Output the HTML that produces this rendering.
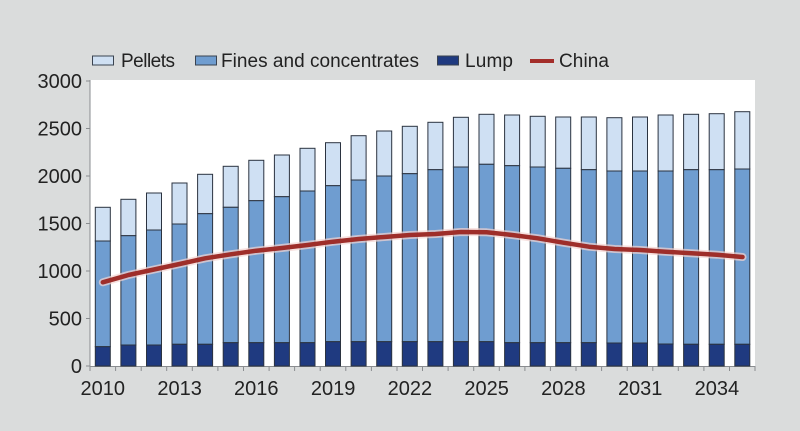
<!DOCTYPE html>
<html><head><meta charset="utf-8"><style>
html,body{margin:0;padding:0;background:#dadcdc;}
svg{display:block;}
text{font-family:"Liberation Sans",sans-serif;fill:#222;}
</style></head><body>
<svg width="800" height="431" viewBox="0 0 800 431" xmlns="http://www.w3.org/2000/svg">
<rect width="800" height="431" fill="#dadcdc"/>
<rect x="90" y="80" width="665" height="286" fill="#ffffff"/>
<!-- legend -->
<rect x="92.5" y="56" width="21" height="9" fill="#cfe0f3" stroke="#3a4350" stroke-width="1"/>
<text x="121" y="67" font-size="19" textLength="54">Pellets</text>
<rect x="195.5" y="56" width="21" height="9" fill="#6f9dd0" stroke="#3a4350" stroke-width="1"/>
<text x="221" y="67" font-size="19" textLength="198">Fines and concentrates</text>
<rect x="437.5" y="56" width="21" height="9" fill="#1f3a80" stroke="#3a4350" stroke-width="1"/>
<text x="465" y="67" font-size="19" textLength="48">Lump</text>
<line x1="530" y1="61" x2="554" y2="61" stroke="#a32e2a" stroke-width="4"/>
<text x="559" y="67" font-size="19" textLength="50">China</text>
<!-- axes -->
<g stroke="#8a8d90" stroke-width="1">
<line x1="90" y1="80" x2="90" y2="366.5"/>
<line x1="90" y1="366.5" x2="755" y2="366.5"/>
<line x1="86" y1="81" x2="90" y2="81"/>
<line x1="86" y1="128.5" x2="90" y2="128.5"/>
<line x1="86" y1="176" x2="90" y2="176"/>
<line x1="86" y1="223.5" x2="90" y2="223.5"/>
<line x1="86" y1="271" x2="90" y2="271"/>
<line x1="86" y1="318.5" x2="90" y2="318.5"/>
<line x1="86" y1="366" x2="90" y2="366"/>
</g>
<g stroke="#8a8d90" stroke-width="1">
<line x1="90" y1="366" x2="90" y2="371"/><line x1="115.6" y1="366" x2="115.6" y2="371"/><line x1="141.2" y1="366" x2="141.2" y2="371"/><line x1="166.7" y1="366" x2="166.7" y2="371"/><line x1="192.3" y1="366" x2="192.3" y2="371"/><line x1="217.9" y1="366" x2="217.9" y2="371"/><line x1="243.5" y1="366" x2="243.5" y2="371"/><line x1="269.1" y1="366" x2="269.1" y2="371"/><line x1="294.6" y1="366" x2="294.6" y2="371"/><line x1="320.2" y1="366" x2="320.2" y2="371"/><line x1="345.8" y1="366" x2="345.8" y2="371"/><line x1="371.4" y1="366" x2="371.4" y2="371"/><line x1="397" y1="366" x2="397" y2="371"/><line x1="422.5" y1="366" x2="422.5" y2="371"/><line x1="448.1" y1="366" x2="448.1" y2="371"/><line x1="473.7" y1="366" x2="473.7" y2="371"/><line x1="499.3" y1="366" x2="499.3" y2="371"/><line x1="524.9" y1="366" x2="524.9" y2="371"/><line x1="550.4" y1="366" x2="550.4" y2="371"/><line x1="576" y1="366" x2="576" y2="371"/><line x1="601.6" y1="366" x2="601.6" y2="371"/><line x1="627.2" y1="366" x2="627.2" y2="371"/><line x1="652.8" y1="366" x2="652.8" y2="371"/><line x1="678.3" y1="366" x2="678.3" y2="371"/><line x1="703.9" y1="366" x2="703.9" y2="371"/><line x1="729.5" y1="366" x2="729.5" y2="371"/><line x1="755" y1="366" x2="755" y2="371"/>
</g>
<!-- y labels -->
<g font-size="20" text-anchor="end">
<text x="82" y="88">3000</text>
<text x="82" y="135.5">2500</text>
<text x="82" y="183">2000</text>
<text x="82" y="230.5">1500</text>
<text x="82" y="278">1000</text>
<text x="82" y="325.5">500</text>
<text x="82" y="373">0</text>
</g>
<!-- x labels -->
<g font-size="20" text-anchor="middle">
<text x="102.8" y="395">2010</text>
<text x="179.6" y="395">2013</text>
<text x="256.3" y="395">2016</text>
<text x="333.1" y="395">2019</text>
<text x="409.9" y="395">2022</text>
<text x="486.6" y="395">2025</text>
<text x="563.4" y="395">2028</text>
<text x="640.2" y="395">2031</text>
<text x="716.9" y="395">2034</text>
</g>
<!-- bars -->
<g stroke="#2b3340" stroke-width="1">
<g fill="#cfe0f3">
<rect x="95.3" y="207.3" width="15" height="33.7"/>
<rect x="120.9" y="199.3" width="15" height="36.4"/>
<rect x="146.5" y="193" width="15" height="37"/>
<rect x="172" y="183" width="15" height="41"/>
<rect x="197.6" y="174.3" width="15" height="39.4"/>
<rect x="223.2" y="166.3" width="15" height="41"/>
<rect x="248.8" y="160.3" width="15" height="40.4"/>
<rect x="274.4" y="155" width="15" height="41.7"/>
<rect x="300" y="148.3" width="15" height="42.7"/>
<rect x="325.5" y="142.7" width="15" height="43"/>
<rect x="351.1" y="135.7" width="15" height="44.3"/>
<rect x="376.7" y="131" width="15" height="45"/>
<rect x="402.3" y="126.3" width="15" height="47.4"/>
<rect x="427.9" y="122.3" width="15" height="47.4"/>
<rect x="453.4" y="117.3" width="15" height="49.7"/>
<rect x="479" y="114.3" width="15" height="50"/>
<rect x="504.6" y="115" width="15" height="50.7"/>
<rect x="530.2" y="116.3" width="15" height="50.7"/>
<rect x="555.7" y="117" width="15" height="51.3"/>
<rect x="581.3" y="117" width="15" height="52.7"/>
<rect x="606.9" y="117.7" width="15" height="53.3"/>
<rect x="632.5" y="117" width="15" height="54"/>
<rect x="658.1" y="115" width="15" height="56"/>
<rect x="683.6" y="114.3" width="15" height="55.4"/>
<rect x="709.2" y="113.7" width="15" height="56"/>
<rect x="734.8" y="111.7" width="15" height="57.3"/>
</g>
<g fill="#6f9dd0">
<rect x="95.3" y="241" width="15" height="105.7"/>
<rect x="120.9" y="235.7" width="15" height="109.3"/>
<rect x="146.5" y="230" width="15" height="115"/>
<rect x="172" y="224" width="15" height="120.3"/>
<rect x="197.6" y="213.7" width="15" height="130.6"/>
<rect x="223.2" y="207.3" width="15" height="135.4"/>
<rect x="248.8" y="200.7" width="15" height="142"/>
<rect x="274.4" y="196.7" width="15" height="146"/>
<rect x="300" y="191" width="15" height="151.7"/>
<rect x="325.5" y="185.7" width="15" height="156"/>
<rect x="351.1" y="180" width="15" height="161.7"/>
<rect x="376.7" y="176" width="15" height="165.7"/>
<rect x="402.3" y="173.7" width="15" height="168"/>
<rect x="427.9" y="169.7" width="15" height="172"/>
<rect x="453.4" y="167" width="15" height="174.7"/>
<rect x="479" y="164.3" width="15" height="177.4"/>
<rect x="504.6" y="165.7" width="15" height="177"/>
<rect x="530.2" y="167" width="15" height="175.7"/>
<rect x="555.7" y="168.3" width="15" height="174.4"/>
<rect x="581.3" y="169.7" width="15" height="173"/>
<rect x="606.9" y="171" width="15" height="172"/>
<rect x="632.5" y="171" width="15" height="172"/>
<rect x="658.1" y="171" width="15" height="173"/>
<rect x="683.6" y="169.7" width="15" height="174.6"/>
<rect x="709.2" y="169.7" width="15" height="174.6"/>
<rect x="734.8" y="169" width="15" height="175.3"/>
</g>
<g fill="#1f3a80">
<rect x="95.3" y="346.7" width="15" height="19.3"/>
<rect x="120.9" y="345" width="15" height="21"/>
<rect x="146.5" y="345" width="15" height="21"/>
<rect x="172" y="344.3" width="15" height="21.7"/>
<rect x="197.6" y="344.3" width="15" height="21.7"/>
<rect x="223.2" y="342.7" width="15" height="23.3"/>
<rect x="248.8" y="342.7" width="15" height="23.3"/>
<rect x="274.4" y="342.7" width="15" height="23.3"/>
<rect x="300" y="342.7" width="15" height="23.3"/>
<rect x="325.5" y="341.7" width="15" height="24.3"/>
<rect x="351.1" y="341.7" width="15" height="24.3"/>
<rect x="376.7" y="341.7" width="15" height="24.3"/>
<rect x="402.3" y="341.7" width="15" height="24.3"/>
<rect x="427.9" y="341.7" width="15" height="24.3"/>
<rect x="453.4" y="341.7" width="15" height="24.3"/>
<rect x="479" y="341.7" width="15" height="24.3"/>
<rect x="504.6" y="342.7" width="15" height="23.3"/>
<rect x="530.2" y="342.7" width="15" height="23.3"/>
<rect x="555.7" y="342.7" width="15" height="23.3"/>
<rect x="581.3" y="342.7" width="15" height="23.3"/>
<rect x="606.9" y="343" width="15" height="23"/>
<rect x="632.5" y="343" width="15" height="23"/>
<rect x="658.1" y="344" width="15" height="22"/>
<rect x="683.6" y="344.3" width="15" height="21.7"/>
<rect x="709.2" y="344.3" width="15" height="21.7"/>
<rect x="734.8" y="344.3" width="15" height="21.7"/>
</g>
</g>
<!-- China line -->
<polyline fill="none" stroke="#f4d4d2" stroke-opacity="0.7" stroke-width="8" stroke-linejoin="round" stroke-linecap="round"
points="102.8,282.3 128.4,275 154,269.5 179.6,264 205.2,258.3 230.7,254.3 256.3,250.7 281.9,248 307.5,245 333.1,241.7 358.7,239 384.3,237 409.9,235 435.4,234 461,232 486.6,232.3 512.2,235 537.8,238.3 563.4,242.7 589,246.7 614.6,249 640.2,250 665.7,251.7 691.3,253.3 716.9,254.7 742.5,257"/>
<polyline fill="none" stroke="#9e2e2a" stroke-width="4.5" stroke-linejoin="round" stroke-linecap="round"
points="102.8,282.3 128.4,275 154,269.5 179.6,264 205.2,258.3 230.7,254.3 256.3,250.7 281.9,248 307.5,245 333.1,241.7 358.7,239 384.3,237 409.9,235 435.4,234 461,232 486.6,232.3 512.2,235 537.8,238.3 563.4,242.7 589,246.7 614.6,249 640.2,250 665.7,251.7 691.3,253.3 716.9,254.7 742.5,257"/>
</svg>
</body></html>
